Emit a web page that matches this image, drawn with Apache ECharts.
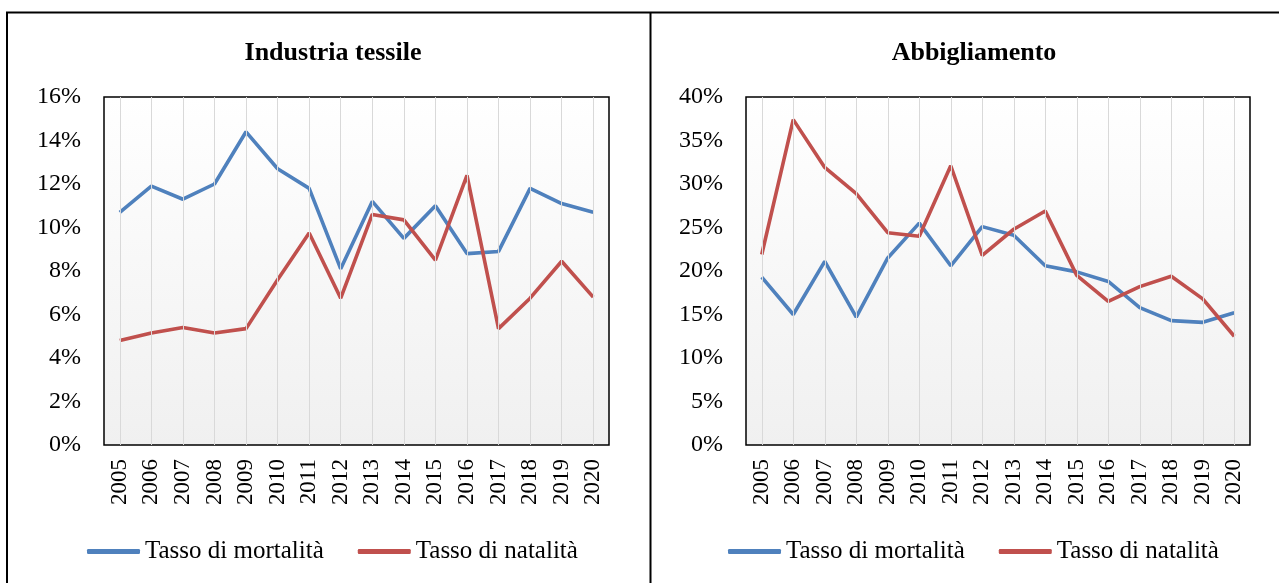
<!DOCTYPE html>
<html>
<head>
<meta charset="utf-8">
<script src="https://cdn.jsdelivr.net/npm/echarts@6/dist/echarts.min.js"></script>
<style>
  html, body { margin: 0; padding: 0; background: #fff; }
  #chart { width: 1279px; height: 583px; }
</style>
</head>
<body>
<div id="chart"></div>
<script>
// Anni
const years = ['2005','2006','2007','2008','2009','2010','2011','2012',
               '2013','2014','2015','2016','2017','2018','2019','2020'];

// Industria tessile (%)
const tessileMortalita = [10.7, 11.9, 11.3, 12.0, 14.4, 12.7, 11.8, 8.1,
                          11.2, 9.5, 11.0, 8.8, 8.9, 11.8, 11.1, 10.7];
const tessileNatalita  = [4.8, 5.15, 5.4, 5.15, 5.35, 7.6, 9.75, 6.75,
                          10.6, 10.35, 8.5, 12.4, 5.35, 6.75, 8.45, 6.8];

// Abbigliamento (%)
const abbMortalita = [19.3, 15.0, 21.1, 14.7, 21.5, 25.5, 20.6, 25.1,
                      24.1, 20.6, 19.9, 18.8, 15.8, 14.3, 14.1, 15.2];
const abbNatalita  = [21.9, 37.4, 31.9, 28.9, 24.4, 24.0, 32.1, 21.8,
                      24.8, 26.9, 19.5, 16.5, 18.2, 19.4, 16.8, 12.5];

const seriesNames = ['Tasso di mortalità', 'Tasso di natalità'];
const panelTitles = ['Industria tessile', 'Abbigliamento'];

const BLUE = '#4F81BD';
const RED = '#C0504D';
const FONT = 'Liberation Serif';

const plotBg = {
  type: 'linear', x: 0, y: 0, x2: 0, y2: 1,
  colorStops: [{ offset: 0, color: '#ffffff' }, { offset: 1, color: '#f0f0f0' }]
};

function gridOf(left, right) {
  return {
    left: left, right: right, top: 97, bottom: 138,
    show: true, borderColor: '#000', borderWidth: 1.5,
    backgroundColor: plotBg, containLabel: false
  };
}

function xAxisOf(idx) {
  return {
    type: 'category', gridIndex: idx, data: years, boundaryGap: true,
    axisLine: { show: false }, axisTick: { show: false },
    splitLine: { show: false },
    axisLabel: { rotate: 90, margin: 14, color: '#000', fontFamily: FONT, fontSize: 23 }
  };
}

function yAxisOf(idx, max, step) {
  return {
    type: 'value', gridIndex: idx, min: 0, max: max, interval: step,
    axisLine: { show: false }, axisTick: { show: false },
    splitLine: { show: false },
    axisLabel: { formatter: '{value}%', margin: 23, color: '#000', fontFamily: FONT, fontSize: 24 }
  };
}

function lineSeries(name, idx, data, color) {
  return {
    name: name, type: 'line', xAxisIndex: idx, yAxisIndex: idx, data: data,
    symbol: 'none', z: 3,
    lineStyle: { color: color, width: 3.6 },
    itemStyle: { color: color }
  };
}

// Linee verticali chiare in corrispondenza di ogni anno
function yearRules(idx) {
  return {
    name: 'rules' + idx, type: 'line', xAxisIndex: idx, yAxisIndex: idx, data: [],
    z: 1, silent: true,
    markLine: {
      silent: true, symbol: 'none', animation: false,
      label: { show: false },
      lineStyle: { color: '#d9d9d9', type: 'solid', width: 1 },
      data: years.map(y => ({ xAxis: y }))
    }
  };
}

function legendOf(left) {
  return {
    data: seriesNames, left: left, top: 534,
    orient: 'horizontal', itemGap: 34, itemWidth: 53, itemHeight: 5,
    icon: 'roundRect',
    textStyle: { color: '#000', fontFamily: FONT, fontSize: 25 },
    selectedMode: false
  };
}

const chart = echarts.init(document.getElementById('chart'), null, { renderer: 'canvas' });

chart.setOption({
  animation: false,
  backgroundColor: '#fff',
  title: [
    { text: panelTitles[0], left: 328, top: 35, textAlign: 'center',
      textStyle: { fontFamily: FONT, fontSize: 26, fontWeight: 'bold', color: '#000' } },
    { text: panelTitles[1], left: 969, top: 35, textAlign: 'center',
      textStyle: { fontFamily: FONT, fontSize: 26, fontWeight: 'bold', color: '#000' } }
  ],
  legend: [legendOf(82), legendOf(723)],
  grid: [gridOf(104, 670), gridOf(746, 29)],
  xAxis: [xAxisOf(0), xAxisOf(1)],
  yAxis: [yAxisOf(0, 16, 2), yAxisOf(1, 40, 5)],
  series: [
    yearRules(0), yearRules(1),
    lineSeries(seriesNames[0], 0, tessileMortalita, BLUE),
    lineSeries(seriesNames[1], 0, tessileNatalita, RED),
    lineSeries(seriesNames[0], 1, abbMortalita, BLUE),
    lineSeries(seriesNames[1], 1, abbNatalita, RED)
  ],
  graphic: [
    // cornice esterna dei due pannelli
    { type: 'line', shape: { x1: 6, y1: 12.5, x2: 1279, y2: 12.5 }, style: { stroke: '#000', lineWidth: 2 } },
    { type: 'line', shape: { x1: 7, y1: 12, x2: 7, y2: 583 }, style: { stroke: '#000', lineWidth: 2 } },
    { type: 'line', shape: { x1: 650.5, y1: 12, x2: 650.5, y2: 583 }, style: { stroke: '#000', lineWidth: 2 } }
  ]
});
</script>
</body>
</html>
